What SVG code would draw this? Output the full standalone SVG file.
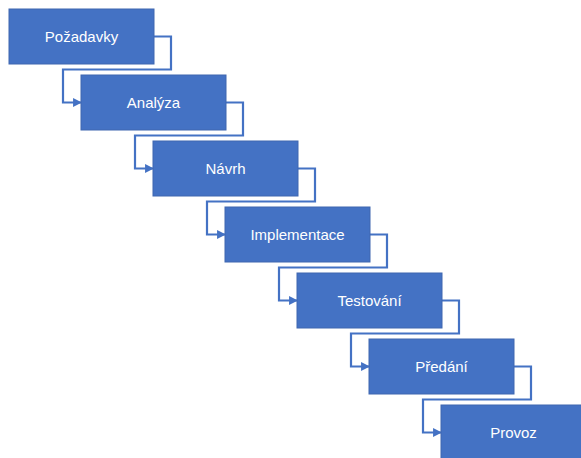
<svg xmlns="http://www.w3.org/2000/svg" width="581" height="458" viewBox="0 0 581 458">
<style>
.box{fill:#4472C4;stroke:#3F67B0;stroke-width:1}
.lbl{fill:#FFFFFF;font-family:"Liberation Sans",Arial,sans-serif;font-size:15px;text-anchor:middle}
.conn{fill:none;stroke:#4472C4;stroke-width:2.2;stroke-linejoin:miter}
</style>
<defs>
<marker id="arr" viewBox="0 0 10 10" refX="9" refY="5" markerWidth="4" markerHeight="4" orient="auto" markerUnits="strokeWidth">
<path d="M0,0 L10,5 L0,10 z" fill="#4472C4"/>
</marker>
</defs>
<rect width="581" height="458" fill="#FFFFFF"/>
<g id="connectors">
<path class="conn" marker-end="url(#arr)" d="M154,36.5 H171 V69.5 H63 V102.5 H81"/>
<path class="conn" marker-end="url(#arr)" d="M226,102.5 H243 V135.5 H135 V168.5 H153"/>
<path class="conn" marker-end="url(#arr)" d="M298,168.5 H315 V201.5 H207 V234.5 H225"/>
<path class="conn" marker-end="url(#arr)" d="M370,234.5 H387 V267.5 H279 V300.5 H297"/>
<path class="conn" marker-end="url(#arr)" d="M442,300.5 H459 V333.5 H351 V366.5 H369"/>
<path class="conn" marker-end="url(#arr)" d="M514,366.5 H531 V399.5 H423 V432.5 H441"/>
</g>
<g id="n1"><rect class="box" x="9" y="9" width="145" height="55"/><text class="lbl" x="81.5" y="42">Požadavky</text></g>
<g id="n2"><rect class="box" x="81" y="75" width="145" height="55"/><text class="lbl" x="153.5" y="108">Analýza</text></g>
<g id="n3"><rect class="box" x="153" y="141" width="145" height="55"/><text class="lbl" x="225.5" y="174">Návrh</text></g>
<g id="n4"><rect class="box" x="225" y="207" width="145" height="55"/><text class="lbl" x="297.5" y="240">Implementace</text></g>
<g id="n5"><rect class="box" x="297" y="273" width="145" height="55"/><text class="lbl" x="369.5" y="306">Testování</text></g>
<g id="n6"><rect class="box" x="369" y="339" width="145" height="55"/><text class="lbl" x="441.5" y="372">Předání</text></g>
<g id="n7"><rect class="box" x="441" y="405" width="145" height="55"/><text class="lbl" x="513.5" y="438">Provoz</text></g>
</svg>
